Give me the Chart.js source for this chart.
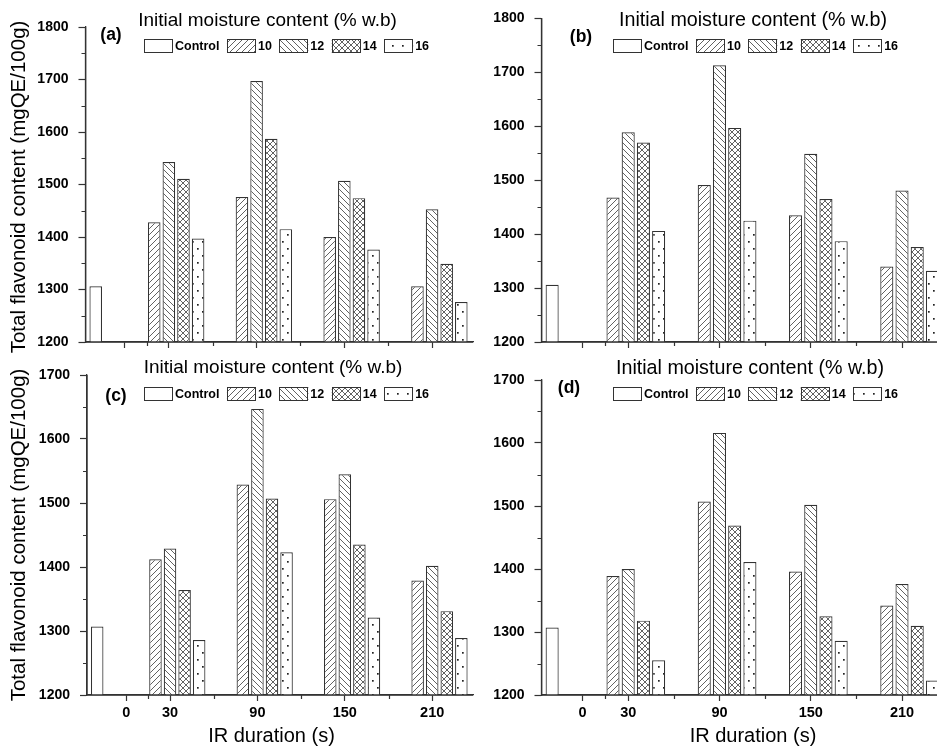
<!DOCTYPE html>
<html>
<head>
<meta charset="utf-8">
<script src="https://cdn.jsdelivr.net/npm/chart.js@4.4.1/dist/chart.umd.min.js"></script>
<style>
  body { margin: 0; background: #fff; }
  #wrap { position: relative; width: 937px; height: 748px; overflow: hidden; }
  canvas { position: absolute; }
</style>
</head>
<body>
<div id="wrap">
  <canvas id="chartA" width="480" height="370" style="left:0;top:0"></canvas>
  <canvas id="chartB" width="451" height="370" style="left:486px;top:0"></canvas>
  <canvas id="chartC" width="480" height="393" style="left:0;top:355px"></canvas>
  <canvas id="chartD" width="451" height="393" style="left:486px;top:355px"></canvas>
</div>
<script>
// x axis: IR duration (s)
const irDuration = [0, 30, 90, 150, 210];
const moistureLabels = ["Control", "10", "12", "14", "16"];
const legendTitle = "Initial moisture content (% w.b)";
const yTitle = "Total flavonoid content (mgQE/100g)";
const xTitle = "IR duration (s)";

// (a)
const aControl = [1306, null, null, null, null];
const a10 = [null, 1428, 1476, 1400, 1306];
const a12 = [null, 1543, 1697, 1507, 1453];
const a14 = [null, 1511, 1587, 1474, 1349];
const a16 = [null, 1397, 1415, 1376, 1276];
// (b)
const bControl = [1306, null, null, null, null];
const b10 = [null, 1468, 1491, 1435, 1340];
const b12 = [null, 1589, 1713, 1549, 1481];
const b14 = [null, 1570, 1597, 1465, 1376];
const b16 = [null, 1406, 1425, 1387, 1332];
// (c)
const cControl = [1307, null, null, null, null];
const c10 = [null, 1412, 1529, 1506, 1379];
const c12 = [null, 1429, 1647, 1545, 1402];
const c14 = [null, 1364, 1507, 1435, 1331];
const c16 = [null, 1286, 1423, 1321, 1289];
// (d)
const dControl = [1307, null, null, null, null];
const d10 = [null, 1389, 1507, 1396, 1342];
const d12 = [null, 1400, 1616, 1502, 1376];
const d14 = [null, 1318, 1469, 1325, 1310];
const d16 = [null, 1255, 1411, 1286, 1223];

Chart.defaults.font.family = '"Liberation Sans", Arial, sans-serif';
const axisColor = "#333";
const FONT = '"Liberation Sans", Arial, sans-serif';

// bar fills
function makeFill(kind){
  const dots = kind === "dots";
  const w = dots ? 10 : 6, h = dots ? 14 : 6;
  const c = document.createElement("canvas");
  c.width = w; c.height = h;
  const g = c.getContext("2d");
  g.fillStyle = "#fff";
  g.fillRect(0, 0, w, h);
  g.strokeStyle = "#3a3a3a";
  g.lineWidth = 0.8;
  g.beginPath();
  for(let k = -1; k <= 1; k++){
    if(kind === "fwd" || kind === "cross"){ g.moveTo(k*w, h); g.lineTo(k*w + w, 0); }
    if(kind === "back" || kind === "cross"){ g.moveTo(k*w, 0); g.lineTo(k*w + w, h); }
  }
  g.stroke();
  if(dots){
    g.fillStyle = "#222";
    g.fillRect(2, 3, 1.7, 1.7);
    g.fillRect(7, 10, 1.7, 1.7);
  }
  return g.createPattern(c, "repeat");
}
const fills = ["#fff", makeFill("fwd"), makeFill("back"), makeFill("cross"), makeFill("dots")];
const slotOffset = [-2, -1, 0, 1, 2]; // Origin-style grouping, 10 s per slot
const slot = 10;

function buildPanel(p){
  const datasets = p.series.map((vals, i) => ({
    label: moistureLabels[i],
    data: irDuration.map((d, j) => vals[j] == null ? null : {x: d + slotOffset[i]*slot, y: vals[j]}).filter(Boolean),
    backgroundColor: fills[i],
    borderColor: axisColor,
    borderWidth: 1.2
  }));

  const decor = {
    id: "decor",
    afterDraw(chart){
      const ctx = chart.ctx, xs = chart.scales.x, ys = chart.scales.y, area = chart.chartArea;
      ctx.save();
      // axis lines again on top of the bars, plus minor ticks
      ctx.strokeStyle = axisColor;
      ctx.lineWidth = 1.3;
      ctx.beginPath();
      ctx.moveTo(area.left, area.top); ctx.lineTo(area.left, area.bottom); ctx.lineTo(area.right, area.bottom);
      ctx.stroke();
      ctx.lineWidth = 1.2;
      ctx.beginPath();
      for(let v = 1250; v < p.yMax; v += 100){
        const py = Math.round(ys.getPixelForValue(v)) + 0.5;
        ctx.moveTo(area.left - 4, py); ctx.lineTo(area.left, py);
      }
      for(let j = 0; j < irDuration.length - 1; j++){
        const px = Math.round(xs.getPixelForValue((irDuration[j] + irDuration[j+1]) / 2)) + 0.5;
        ctx.moveTo(px, area.bottom); ctx.lineTo(px, area.bottom + 4);
      }
      ctx.stroke();

      // legend
      ctx.fillStyle = "#000";
      ctx.textAlign = "center";
      ctx.textBaseline = "middle";
      ctx.font = p.titleSize + "px " + FONT;
      ctx.fillText(legendTitle, p.titleX - p.left, p.titleY - p.top);

      let x = p.legendX - p.left;
      const cy = p.legendY - p.top;
      ctx.font = "bold 12.5px " + FONT;
      ctx.textAlign = "left";
      chart.data.datasets.forEach(ds => {
        ctx.fillStyle = ds.backgroundColor;
        ctx.fillRect(x, cy - 7, 29, 14);
        ctx.strokeStyle = axisColor;
        ctx.lineWidth = 1;
        ctx.strokeRect(Math.round(x) + 0.5, Math.round(cy - 7) + 0.5, 28, 13);
        ctx.fillStyle = "#000";
        ctx.fillText(ds.label, x + 31, cy + 1);
        x += 29 + 2 + ctx.measureText(ds.label).width + 7.5;
      });

      // panel letter
      ctx.textAlign = "center";
      ctx.font = "bold 17.5px " + FONT;
      ctx.fillText(p.letter, p.letterX - p.left, p.letterY - p.top);

      // axis titles
      ctx.font = "20px " + FONT;
      if(p.yTitleY){
        ctx.save();
        ctx.translate(19 - p.left, p.yTitleY - p.top);
        ctx.rotate(-Math.PI/2);
        ctx.font = "20.5px " + FONT;
        ctx.fillText(yTitle, 0, 0);
        ctx.restore();
      }
      if(p.xTitleX){
        ctx.fillText(xTitle, p.xTitleX - p.left, 736 - p.top);
      }
      ctx.restore();
    }
  };

  return new Chart(document.getElementById(p.id), {
    type: "bar",
    data: { datasets },
    options: {
      responsive: false,
      animation: false,
      grouped: false,
      barPercentage: 0.86,
      categoryPercentage: 1,
      layout: { padding: { left: 0, top: p.areaTop - p.top, right: p.width - (p.areaRight - p.left), bottom: 0 } },
      plugins: { legend: { display: false }, tooltip: { enabled: false } },
      scales: {
        x: {
          type: "linear", min: -27, max: p.xMax, offset: false,
          afterBuildTicks: s => { s.ticks = irDuration.map(v => ({ value: v })); },
          afterFit: s => { s.height = p.height - (p.areaBottom - p.top); },
          grid: { display: true, drawOnChartArea: false, offset: false, tickLength: 6, tickColor: axisColor, tickWidth: 1.2 },
          border: { color: axisColor, width: 1.3 },
          ticks: { display: p.xLabels, autoSkip: false, maxRotation: 0, padding: 3, color: "#000",
                   font: { size: 14.5, weight: "bold" }, callback: v => String(v) }
        },
        y: {
          min: 1200, max: p.yMax,
          afterFit: s => { s.width = p.areaLeft - p.left; },
          grid: { drawOnChartArea: false, tickLength: 7, tickColor: axisColor, tickWidth: 1.2 },
          border: { color: axisColor, width: 1.3 },
          ticks: { stepSize: 100, padding: 10, color: "#000", font: { size: 14, weight: "bold" }, callback: v => String(v) }
        }
      }
    },
    plugins: [decor]
  });
}

buildPanel({ id: "chartA", left: 0, top: 0, width: 480, height: 370,
  areaLeft: 85.5, areaTop: 27, areaRight: 473, areaBottom: 342, xMax: 238, yMax: 1800, xLabels: false,
  series: [aControl, a10, a12, a14, a16],
  titleX: 267.5, titleY: 21, titleSize: 19, legendX: 144, legendY: 46,
  letter: "(a)", letterX: 111, letterY: 35, yTitleY: 187 });

buildPanel({ id: "chartB", left: 486, top: 0, width: 451, height: 370,
  areaLeft: 541.5, areaTop: 14, areaRight: 937, areaBottom: 342, xMax: 233, yMax: 1800, xLabels: false,
  series: [bControl, b10, b12, b14, b16],
  titleX: 753, titleY: 21, titleSize: 19.7, legendX: 613, legendY: 46,
  letter: "(b)", letterX: 581, letterY: 37 });

buildPanel({ id: "chartC", left: 0, top: 355, width: 480, height: 393,
  areaLeft: 87, areaTop: 375, areaRight: 473, areaBottom: 695, xMax: 238, yMax: 1700, xLabels: true,
  series: [cControl, c10, c12, c14, c16],
  titleX: 273, titleY: 368, titleSize: 19, legendX: 144, legendY: 394,
  letter: "(c)", letterX: 116, letterY: 396, yTitleY: 535, xTitleX: 271.5 });

buildPanel({ id: "chartD", left: 486, top: 355, width: 451, height: 393,
  areaLeft: 541.5, areaTop: 380, areaRight: 937, areaBottom: 695, xMax: 233, yMax: 1700, xLabels: true,
  series: [dControl, d10, d12, d14, d16],
  titleX: 750, titleY: 369, titleSize: 19.7, legendX: 613, legendY: 394,
  letter: "(d)", letterX: 569, letterY: 388, xTitleX: 753 });
</script>
</body>
</html>
